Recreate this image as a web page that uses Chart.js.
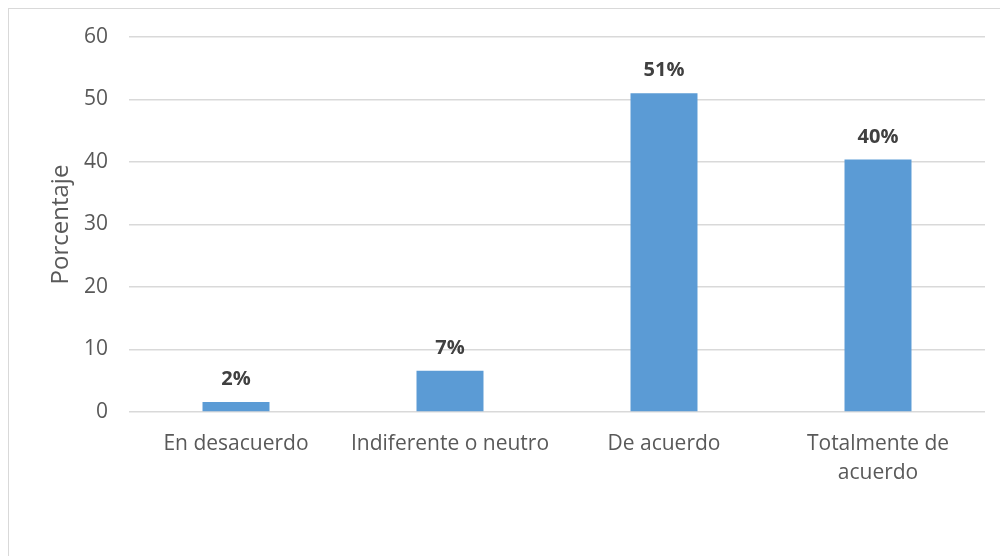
<!DOCTYPE html>
<html>
<head>
<meta charset="utf-8">
<script src="https://cdn.jsdelivr.net/npm/chart.js@4"></script>
<style>
  html, body { margin: 0; padding: 0; background: #fff; }
  #wrap { position: relative; width: 1000px; height: 556px; overflow: hidden; }
  #frame { position: absolute; left: 8px; top: 8px; width: 1100px; height: 700px;
           border-top: 1px solid #d9d9d9; border-left: 1px solid #d9d9d9; }
  #myChart { position: absolute; left: 0; top: 0; }
</style>
</head>
<body>
<div id="wrap">
  <div id="frame"></div>
  <canvas id="myChart" width="1000" height="556"></canvas>
</div>
<script>
// categories and their values (percent)
const categories = ['En desacuerdo', 'Indiferente o neutro', 'De acuerdo', ['Totalmente de', 'acuerdo']];
const porcentajes = [1.6, 6.6, 51.0, 40.4];
const yTicks = [0, 10, 20, 30, 40, 50, 60];

const fontName = "'Open Sans', 'Noto Sans', sans-serif";
const textColor = '#595959';

// draws the "NN%" labels above each bar
const barLabels = {
  id: 'barLabels',
  afterDatasetsDraw(chart) {
    const ctx = chart.ctx;
    const meta = chart.getDatasetMeta(0);
    ctx.save();
    ctx.font = 'bold 20px ' + fontName;
    ctx.fillStyle = '#404040';
    ctx.textAlign = 'center';
    ctx.textBaseline = 'alphabetic';
    meta.data.forEach(function(bar, i) {
      ctx.fillText(Math.round(porcentajes[i]) + '%', bar.x, bar.y - 17);
    });
    ctx.restore();
  }
};

new Chart(document.getElementById('myChart'), {
  type: 'bar',
  data: {
    labels: categories,
    datasets: [{
      label: 'Porcentaje',
      data: porcentajes,
      backgroundColor: '#5b9bd5',
      borderWidth: 0,
      categoryPercentage: 1,
      barPercentage: 0.313
    }]
  },
  options: {
    responsive: false,
    animation: false,
    layout: { padding: { top: 37, right: 15, left: 0, bottom: 0 } },
    plugins: {
      legend: { display: false },
      tooltip: { enabled: false }
    },
    scales: {
      x: {
        grid: { display: false, drawTicks: false },
        border: { display: false },
        ticks: {
          color: textColor,
          font: { family: fontName, size: 21, lineHeight: 1.35 },
          padding: 18,
          maxRotation: 0,
          autoSkip: false
        },
        afterFit: function(scale) { scale.height = 556 - 412; }
      },
      y: {
        min: 0,
        max: 60,
        afterBuildTicks: function(scale) {
          scale.ticks = yTicks.map(v => ({ value: v }));
        },
        grid: { color: '#d9d9d9', lineWidth: 1.5, drawTicks: false },
        border: { display: false },
        ticks: {
          color: textColor,
          font: { family: fontName, size: 21 },
          padding: 21
        },
        title: {
          display: true,
          text: 'Porcentaje',
          color: textColor,
          font: { family: fontName, size: 24 },
          padding: { top: 47, bottom: 0 }
        },
        afterFit: function(scale) { scale.width = 129; }
      }
    }
  },
  plugins: [barLabels]
});
</script>
</body>
</html>
